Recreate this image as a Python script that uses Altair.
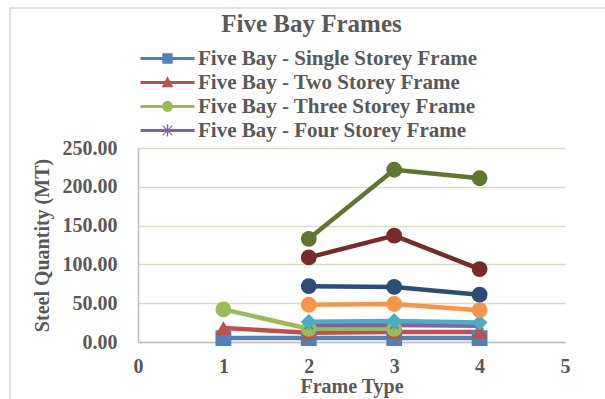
import altair as alt
import pandas as pd

# Frame types on the x axis
frame_types = [1, 2, 3, 4]

series_names = [
    "Five Bay - Single Storey Frame",
    "Five Bay - Two Storey Frame",
    "Five Bay - Three Storey Frame",
    "Five Bay - Four Storey Frame",
    "Five Bay - Five Storey Frame",
    "Five Bay - Six Storey Frame",
    "Five Bay - Seven Storey Frame",
    "Five Bay - Eight Storey Frame",
    "Five Bay - Nine Storey Frame",
]

# Steel quantity (MT) per frame type; None where a frame type has no value
single_storey = [5, 5, 5, 5]
two_storey = [18, 12, 13, 13]
three_storey = [42, 17, 17, None]
four_storey = [None, 22, 22, 21]
five_storey = [None, 26, 27, 25]
six_storey = [None, 48, 49, 41]
seven_storey = [None, 72, 71, 61]
eight_storey = [None, 109, 137, 94]
nine_storey = [None, 133, 222, 211]

all_values = [single_storey, two_storey, three_storey, four_storey, five_storey,
              six_storey, seven_storey, eight_storey, nine_storey]

colors = ["#4F81BD", "#C0504D", "#9BBB59", "#8064A2", "#4BACC6",
          "#F79646", "#2C4D75", "#772C2A", "#5F7530"]

legend_names = series_names[:4]

x_ticks = [0, 1, 2, 3, 4, 5]
y_ticks = [0, 50, 100, 150, 200, 250]

# Asterisk marker built from three thin bars
ASTERISK = ("M-0.43,-0.57L0.57,0.43L0.43,0.57L-0.57,-0.43Z"
            "M0.57,-0.43L-0.43,0.57L-0.57,0.43L0.43,-0.57Z"
            "M-0.07,-0.6H0.07V0.6H-0.07Z")
marker_shapes = ["square", "triangle-up", "circle", ASTERISK, "diamond",
                 "circle", "circle", "circle", "circle"]

# Legend symbols: a line segment with the series marker in the middle
SEG = "M-3.375,-0.2H3.375V0.2H-3.375Z"
legend_shapes = [
    SEG + "M-0.65,-0.65H0.65V0.65H-0.65Z",
    SEG + "M0,-0.78L0.72,0.58L-0.72,0.58Z",
    SEG + "M0.68,0A0.68,0.68 0 1,1 -0.68,0A0.68,0.68 0 1,1 0.68,0Z",
    SEG + "M-0.55,-0.65L0.65,0.55L0.55,0.65L-0.65,-0.55Z"
          "M0.65,-0.55L-0.55,0.65L-0.65,0.55L0.55,-0.65Z"
          "M-0.09,-0.75H0.09V0.75H-0.09Z",
]

rows = []
for name, vals in zip(series_names, all_values):
    for ft, v in zip(frame_types, vals):
        if v is not None:
            rows.append({"series": name, "frame": ft, "qty": v})
df = pd.DataFrame(rows)

FONT = "Liberation Serif"
TEXT = "#595959"

x_enc = alt.X("frame:Q", scale=alt.Scale(domain=[0, 5], nice=False),
              axis=alt.Axis(values=x_ticks, format="d", grid=False,
                            ticks=False, domainColor="#BFBFBF", domainWidth=1.5,
                            labelPadding=14, labelFlush=False, labelOverlap=False,
                            labelFont=FONT, labelFontSize=20,
                            labelFontWeight="bold", labelColor=TEXT,
                            title="Frame Type", titleFont=FONT, titleFontSize=20,
                            titleFontWeight="bold", titleColor=TEXT, titlePadding=0))
y_enc = alt.Y("qty:Q", scale=alt.Scale(domain=[0, 250], nice=False),
              axis=alt.Axis(values=y_ticks, format=".2f",
                            grid=True, gridColor="#DDD9C3", gridWidth=1.5,
                            ticks=False, domainColor="#BFBFBF", domainWidth=1.5,
                            labelPadding=21, labelFlush=False, labelOverlap=False,
                            labelFont=FONT, labelFontSize=20,
                            labelFontWeight="bold", labelColor=TEXT,
                            title="Steel Quantity (MT)", titleFont=FONT,
                            titleFontSize=20, titleFontWeight="bold",
                            titleColor=TEXT, titlePadding=10))

color_all = alt.Color("series:N", scale=alt.Scale(domain=series_names, range=colors),
                      legend=None)

base = alt.Chart(df)

lines = base.mark_line(strokeWidth=4.5, strokeJoin="round").encode(
    x=x_enc, y=y_enc, color=color_all, order="frame:Q"
)

points = base.mark_point(filled=True, opacity=1, size=250).encode(
    x=x_enc, y=y_enc, color=color_all,
    shape=alt.Shape("series:N", scale=alt.Scale(domain=series_names, range=marker_shapes),
                    legend=None),
)

leg = alt.Legend(title=None, orient="none", legendX=19, legendY=-100, padding=0,
                 symbolSize=256, symbolStrokeWidth=0, labelOffset=20,
                 labelFont=FONT, labelFontSize=21, labelFontWeight="bold",
                 labelColor=TEXT, labelLimit=500, rowPadding=2)

legend_layer = base.mark_point(filled=True, opacity=1).encode(
    x=x_enc, y=y_enc,
    color=alt.Color("series:N", scale=alt.Scale(domain=legend_names, range=colors[:4]),
                    legend=leg),
    shape=alt.Shape("series:N", scale=alt.Scale(domain=legend_names, range=legend_shapes),
                    legend=leg),
).transform_filter("false")

frame_box = alt.Chart(pd.DataFrame({"k": [0]})).mark_rect(
    fillOpacity=0, stroke="#D9D9D9", strokeWidth=1.5
).encode(x=alt.value(-128), x2=alt.value(500), y=alt.value(-140), y2=alt.value(300))

chart = alt.layer(frame_box, lines, points, legend_layer).resolve_scale(
    color="independent", shape="independent"
).properties(
    width=427, height=194,
    autosize=alt.AutoSizeParams(type="none"),
    padding={"left": 138, "top": 148, "right": 40, "bottom": 57},
    title=alt.TitleParams("Five Bay Frames", font=FONT, fontSize=25,
                          fontWeight="bold", color=TEXT, anchor="middle",
                          dx=-40, dy=44, offset=14),
    background="white",
).configure_view(stroke=None)

chart.save("out.html", embed_options={"renderer": "svg", "actions": False})
